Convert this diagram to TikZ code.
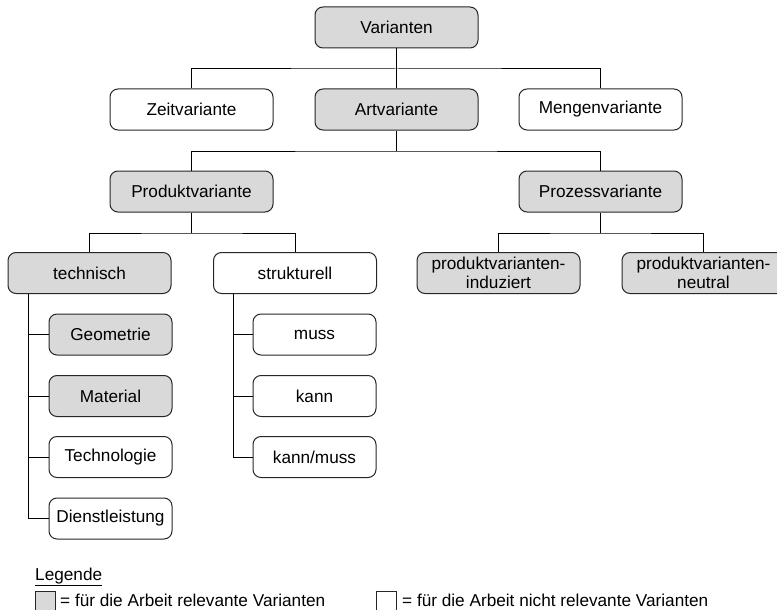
\documentclass[tikz,border=0pt]{standalone}
\usepackage{fontspec}
\setmainfont{Liberation Sans}
\begin{document}
\definecolor{relgray}{RGB}{217,217,217}
\begin{tikzpicture}[x=1pt,y=-1pt,
  font=\fontsize{17.2}{19}\selectfont,
  box/.style={draw=black!85, line width=1pt, rounded corners=8pt,
    minimum width=163pt, minimum height=41pt, inner sep=0pt, align=center},
  subbox/.style={box, minimum width=123pt},
  rel/.style={fill=relgray},
  link/.style={draw=black, line width=1pt}]
\clip (0,0) rectangle (777,610);
\useasboundingbox (0,0) rectangle (777,610);

% level 1 and 2
\node[box,rel] (var) at (396.5,27.5) {Varianten};
\node[box] (zeit) at (191.5,109.5) {Zeitvariante};
\node[box,rel] (art) at (396.5,109.5) {Artvariante};
\node[box] (menge) at (600.5,109.5) {Mengenvariante};

% level 3
\node[box,rel] (prod) at (191.5,191.5) {Produktvariante};
\node[box,rel] (proz) at (600.5,191.5) {Prozessvariante};

% level 4
\node[box,rel] (tech) at (89.5,273) {technisch};
\node[box] (strukt) at (295,273) {strukturell};
\node[box,rel] (induz) at (498.5,273) {produktvarianten-\\induziert};
\node[box,rel] (neutr) at (703.5,273) {produktvarianten-\\neutral};

% children of technisch
\node[subbox,rel] (geo) at (110.5,334.5) {Geometrie};
\node[subbox,rel] (mat) at (110.5,396) {Material};
\node[subbox] (techno) at (110.5,457) {Technologie};
\node[subbox] (dienst) at (110.5,518.5) {Dienstleistung};

% children of strukturell
\node[subbox] (muss) at (314.5,334.5) {muss};
\node[subbox] (kann) at (314.5,396) {kann};
\node[subbox] (kannmuss) at (314.5,457) {kann/muss};

% tree connectors
\draw[link] (var.south) -- (art.north);
\draw[link] (zeit.north) |- ([yshift=-20.5pt]var.south) -| (menge.north);
\draw[link] (art.south) -- ++(0,20.5) coordinate (j2);
\draw[link] (prod.north) |- (j2) -| (proz.north);
\draw[link] (prod.south) -- ++(0,20.5) coordinate (j3);
\draw[link] (tech.north) |- (j3) -| (strukt.north);
\draw[link] (proz.south) -- ++(0,20.5) coordinate (j4);
\draw[link] (induz.north) |- (j4) -| (neutr.north);

% side branches
\draw[link] ([xshift=21pt]tech.south west) |- (dienst.west);
\draw[link] ([xshift=21pt]tech.south west |- geo.west) -- (geo.west);
\draw[link] ([xshift=21pt]tech.south west |- mat.west) -- (mat.west);
\draw[link] ([xshift=21pt]tech.south west |- techno.west) -- (techno.west);
\draw[link] ([xshift=20pt]strukt.south west) |- (kannmuss.west);
\draw[link] ([xshift=20pt]strukt.south west |- muss.west) -- (muss.west);
\draw[link] ([xshift=20pt]strukt.south west |- kann.west) -- (kann.west);

% legend
\node[anchor=base west, inner sep=0pt] (leg) at (35,580) {\underline{Legende}};
\draw[draw=black!85, line width=1pt, fill=relgray] (35,591) rectangle (55,620);
\coordinate (lg1) at (55,600);
\node[anchor=west, inner sep=0pt] (legrel) at ([xshift=5pt]lg1) {= für die Arbeit relevante Varianten};
\draw[draw=black!85, line width=1pt] (376,591) rectangle (396,620);
\coordinate (lg2) at (396,600);
\node[anchor=west, inner sep=0pt] (legnot) at ([xshift=6pt]lg2) {= für die Arbeit nicht relevante Varianten};
\end{tikzpicture}
\end{document}
